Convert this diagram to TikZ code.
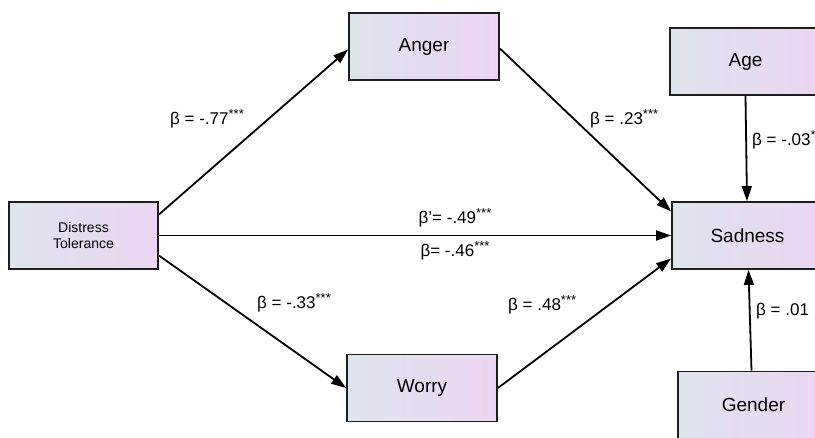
\documentclass[tikz,border=0pt]{standalone}
\usepackage{fontspec}
\setmainfont{Liberation Sans}
\usetikzlibrary{arrows.meta}
\definecolor{boxL}{RGB}{222,228,236}
\definecolor{boxR}{RGB}{236,213,243}
\definecolor{edge}{RGB}{30,30,30}
\newcommand{\stars}[1]{\raisebox{0.33em}{\fontsize{13}{13}\selectfont #1}}
\begin{document}
\begin{tikzpicture}[x=1pt,y=1pt,
  varbox/.style={draw=edge, line width=1.8pt, left color=boxL, right color=boxR,
    minimum width=150pt, minimum height=67pt, inner sep=0pt, align=center,
    font=\fontsize{19}{20}\selectfont},
  smallbox/.style={varbox, font=\fontsize{14}{16}\selectfont},
  conn/.style={draw=black, line width=1.8pt, -{Triangle[length=15pt,width=10pt]}},
  lab/.style={inner sep=0pt, font=\fontsize{17}{19}\selectfont}
]
\useasboundingbox (0,0) rectangle (815,437);
\clip (0,0) rectangle (815,437);

\node[smallbox, minimum width=149pt] (dt) at (83.5,201.5) {Distress\\Tolerance};
\node[varbox] (anger) at (424,390.5) {Anger};
\node[varbox] (worry) at (422,49) {Worry};
\node[varbox, minimum width=151pt] (sad) at (747.5,201.5) {Sadness};
\node[varbox, minimum width=151pt] (age) at (745.5,375.5) {Age};
\node[varbox, minimum width=151pt] (gender) at (753.5,32) {Gender};

\draw[conn] ([yshift=21pt]dt.east) -- ([yshift=-3pt]anger.west);
\draw[conn] ([yshift=-2pt]anger.east) -- ([yshift=24pt]sad.west);
\draw[conn] (dt.east) -- (sad.west);
\draw[conn] ([yshift=-20pt]dt.east) -- (worry.west);
\draw[conn] (worry.east) -- ([yshift=-23pt]sad.west);
\draw[conn] (age.south) -- ([xshift=-0.5pt]sad.north);
\draw[conn] ([xshift=-2pt]gender.north) -- ([xshift=1pt]sad.south);

\node[lab, anchor=west] (l1) at (170,318) {β = -.77\stars{***}};
\node[lab, anchor=west] (l2) at (590,318) {β = .23\stars{***}};
\node[lab, anchor=west] (l3) at (752,297) {β = -.03\stars{*}};
\node[lab] (l4) at (455,219) {β'= -.49\stars{***}};
\node[lab] (l5) at (455,186) {β= -.46\stars{***}};
\node[lab, anchor=west] (l6) at (257,134) {β = -.33\stars{***}};
\node[lab, anchor=west] (l7) at (508,132) {β = .48\stars{***}};
\node[lab, anchor=west] (l8) at (756,126) {β = .01};
\end{tikzpicture}
\end{document}
